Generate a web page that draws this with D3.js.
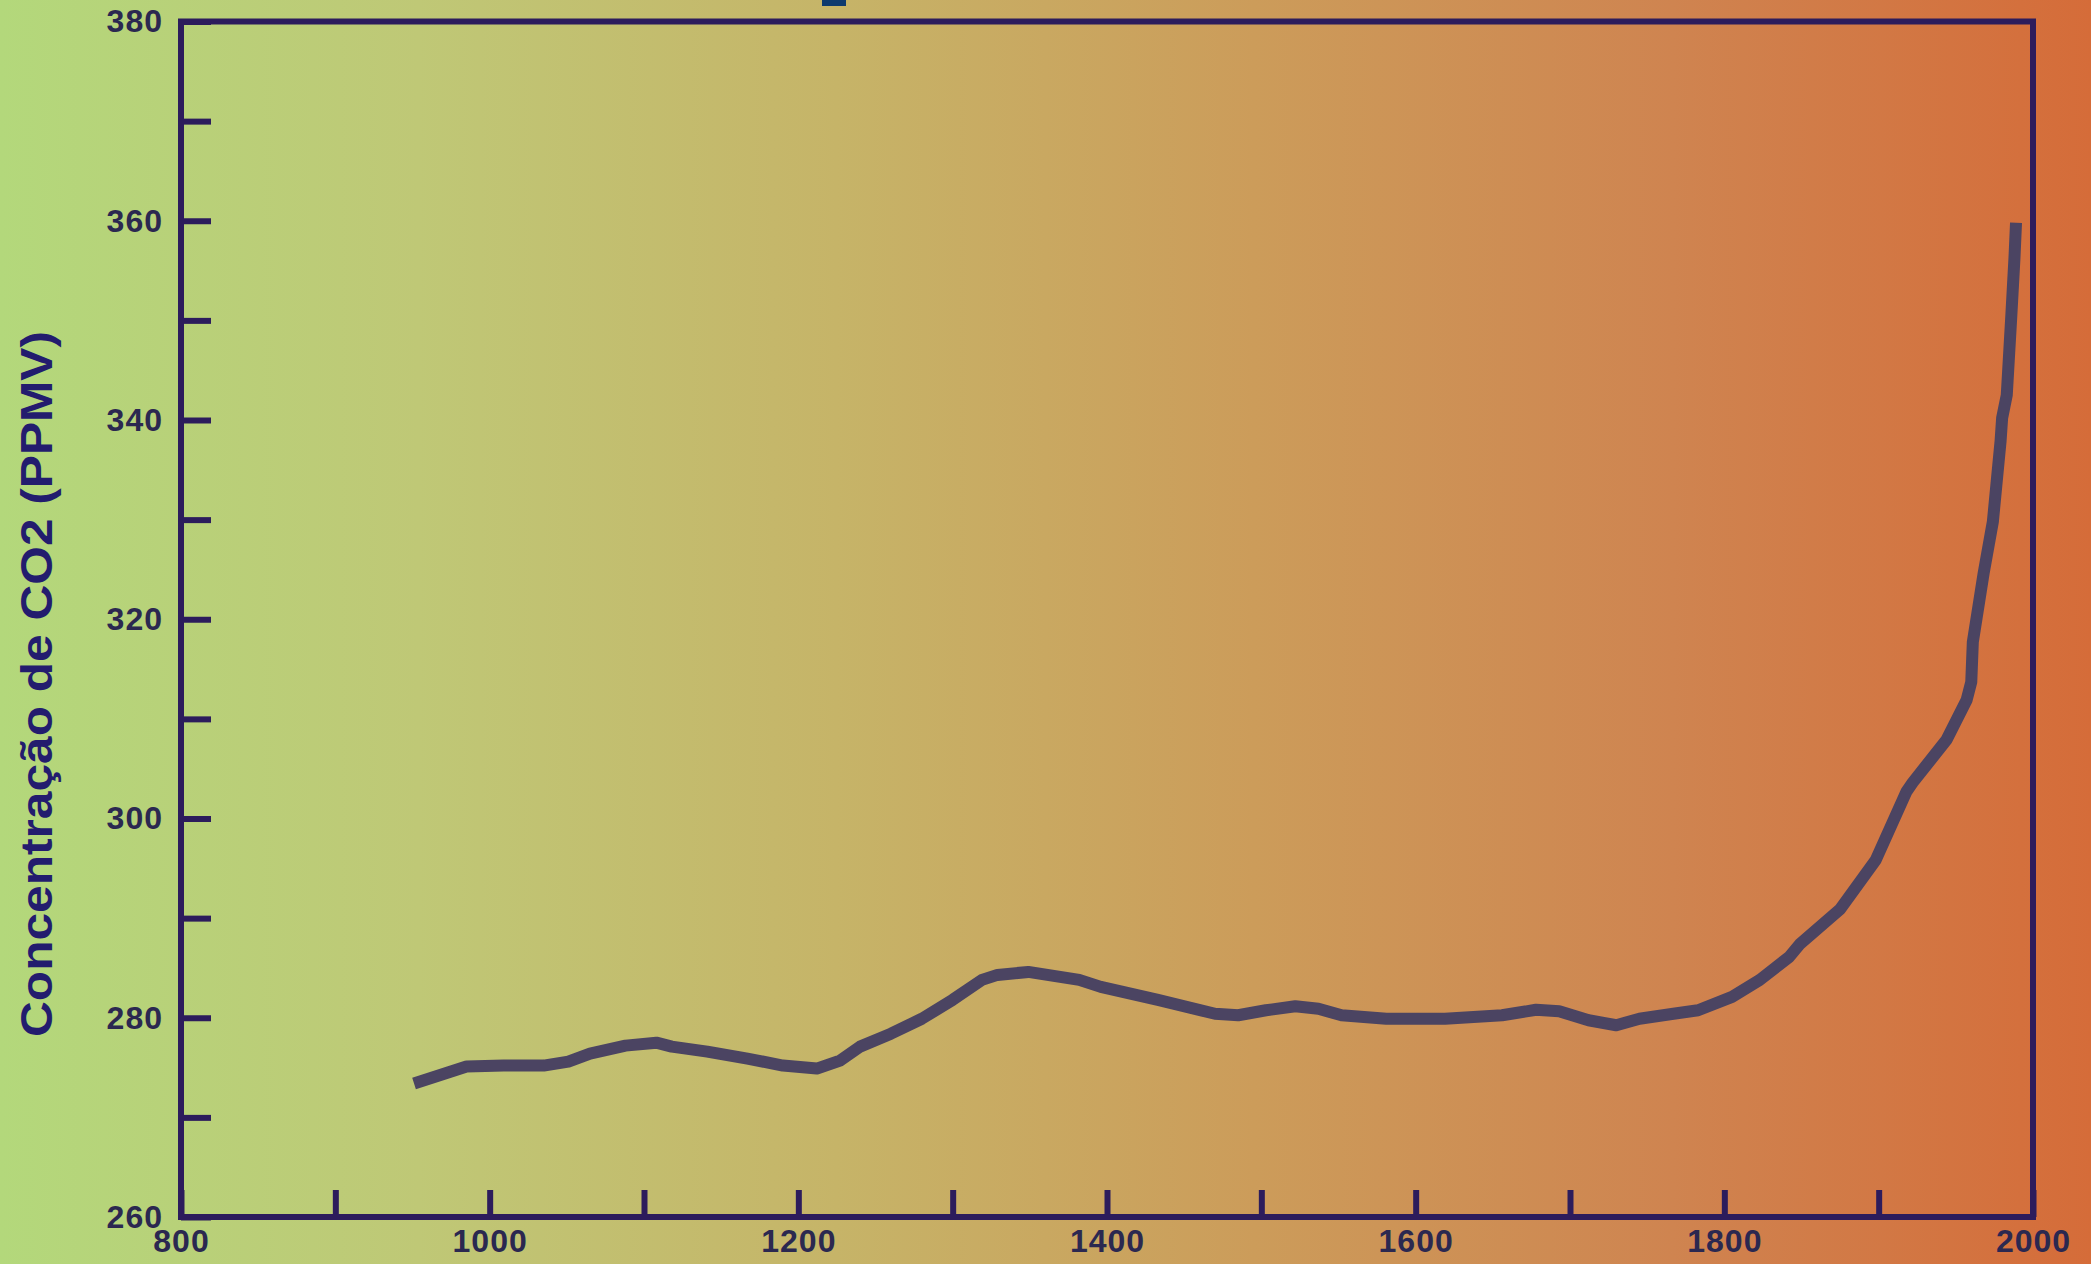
<!DOCTYPE html>
<html>
<head>
<meta charset="utf-8">
<script src="https://cdn.jsdelivr.net/npm/d3@7"></script>
<style>
  html, body { margin: 0; padding: 0; overflow: hidden; }
  svg { display: block; }
</style>
</head>
<body>
<div id="chart"></div>
<script>
// values
const years = [951, 985, 1009, 1035, 1051, 1065, 1088, 1108, 1118, 1141, 1167, 1190, 1212, 1227, 1240,
  1260, 1280, 1300, 1319, 1329, 1349, 1382, 1396, 1433, 1470, 1485, 1503, 1522, 1537, 1552,
  1581, 1619, 1656, 1678, 1693, 1712, 1730, 1745, 1767, 1783, 1805, 1823, 1842, 1849, 1875,
  1898, 1918, 1922, 1944, 1957, 1960, 1961, 1968, 1974, 1979, 1980, 1983, 1986, 1988, 1989]
const co2 = [273.4, 275.1, 275.2, 275.2, 275.6, 276.4, 277.2, 277.5, 277.1, 276.6, 275.9, 275.2, 274.9, 275.7, 277.1,
  278.4, 279.9, 281.8, 283.8, 284.3, 284.6, 283.8, 283.1, 281.8, 280.4, 280.25, 280.75, 281.15, 280.9, 280.25,
  279.9, 279.9, 280.25, 280.8, 280.65, 279.75, 279.25, 279.9, 280.4, 280.75, 282.1, 283.8, 286.1, 287.4, 290.9,
  295.8, 302.7, 303.6, 307.9, 311.9, 313.7, 317.7, 324.6, 329.8, 337.9, 340.2, 342.5, 350.6, 356.3, 359.8]

const xTicks = d3.range(800, 2001, 100)
const xLabels = [800, 1000, 1200, 1400, 1600, 1800, 2000]
const yTicks = d3.range(260, 381, 10)
const yLabels = [260, 280, 300, 320, 340, 360, 380]
const yTitle = "Concentração de CO2 (PPMV)"

const width = 2091
const height = 1264
const margin = {top: 21.5, left: 181, bottom: 47, right: 58}
const innerWidth = width - margin.left - margin.right
const innerHeight = height - margin.top - margin.bottom

const svg = d3.select("#chart").append("svg")
  .attr("width", width)
  .attr("height", height)

const grad = svg.append("defs").append("linearGradient")
  .attr("id", "bg").attr("x1", 0).attr("x2", 1).attr("y1", 0).attr("y2", 0)
const stops = [[0, "#b3d87b"], [0.2, "#bfc876"], [0.4, "#c6b468"], [0.6, "#cc9c5a"], [0.8, "#cf8450"], [1, "#d56c39"]]
grad.selectAll("stop").data(stops).enter().append("stop")
  .attr("offset", d => d[0]).attr("stop-color", d => d[1])

svg.append("rect").attr("width", width).attr("height", height).attr("fill", "url(#bg)")

// cut-off piece of the title at the top edge
svg.append("rect").attr("x", 822).attr("y", 0).attr("width", 24).attr("height", 6).attr("fill", "#0d3a6e")

const group = svg.append("g")
  .attr("transform", `translate(${margin.left},${margin.top})`)

const x = d3.scaleLinear().domain([800, 2000]).range([0, innerWidth])
const y = d3.scaleLinear().domain([260, 380]).range([innerHeight, 0])

const axisColor = "#2c1c5c"
const labelColor = "#2b2850"

const yAxis = group.append("g")
  .call(d3.axisLeft(y).tickValues(yTicks).tickSize(-30).tickSizeOuter(0).tickPadding(18)
    .tickFormat(d => yLabels.includes(d) ? d : ""))
const xAxis = group.append("g")
  .attr("transform", `translate(0,${innerHeight})`)
  .call(d3.axisBottom(x).tickValues(xTicks).tickSize(-27).tickSizeOuter(0).tickPadding(12)
    .tickFormat(d => xLabels.includes(d) ? d : ""))

for (const ax of [yAxis, xAxis]) {
  ax.select(".domain").remove()
  ax.selectAll("line").attr("stroke", axisColor).attr("stroke-width", 6)
  ax.selectAll("text")
    .attr("fill", labelColor)
    .style("font-family", "'Liberation Sans', Arial, sans-serif")
    .style("font-weight", "bold")
    .style("font-size", "32px")
    .style("letter-spacing", "1px")
}

// frame
group.append("rect")
  .attr("width", innerWidth).attr("height", innerHeight)
  .attr("fill", "none").attr("stroke", axisColor).attr("stroke-width", 6)

const line = d3.line().x(d => x(d[0])).y(d => y(d[1]))
group.append("path")
  .datum(years.map((yr, i) => [yr, co2[i]]))
  .attr("d", line)
  .attr("fill", "none")
  .attr("stroke", "#4b4462")
  .attr("stroke-width", 12)
  .attr("stroke-linejoin", "round")

svg.append("text")
  .attr("transform", "translate(52,684) rotate(-90)")
  .attr("text-anchor", "middle")
  .attr("textLength", 706)
  .attr("lengthAdjust", "spacingAndGlyphs")
  .attr("fill", "#231c6e")
  .style("font-family", "'Liberation Sans', Arial, sans-serif")
  .style("font-weight", "bold")
  .style("font-size", "44px")
  .text(yTitle)
</script>
</body>
</html>
